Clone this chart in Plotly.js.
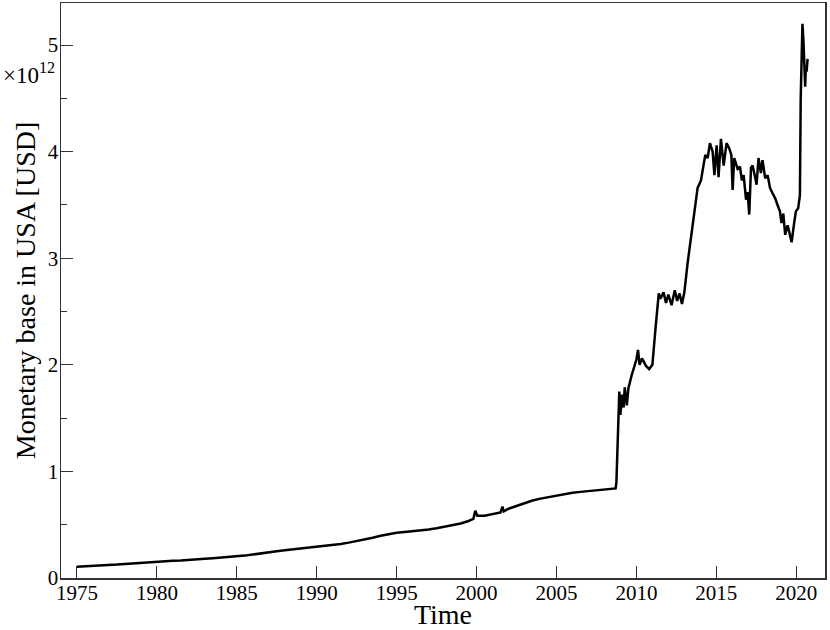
<!DOCTYPE html>
<html>
<head>
<meta charset="utf-8">
<script src="https://cdn.plot.ly/plotly-3.0.1.min.js"></script>
<style>
  html, body { margin: 0; padding: 0; background: #fff; }
  #chart { width: 830px; height: 630px; }
</style>
</head>
<body>
<div id="chart"></div>
<script>
// time in decimal years, monetary base in units of 10^12 USD
var years = [
  1975.0, 1975.5, 1976.0, 1976.5, 1977.0, 1977.5, 1978.0, 1978.5, 1979.0, 1979.5,
  1980.0, 1980.5, 1981.0, 1981.5, 1982.0, 1982.5, 1983.0, 1983.5, 1984.0, 1984.5,
  1985.0, 1985.5, 1986.0, 1986.5, 1987.0, 1987.5, 1988.0, 1988.5, 1989.0, 1989.5,
  1990.0, 1990.5, 1991.0, 1991.5, 1992.0, 1992.5, 1993.0, 1993.5, 1994.0, 1994.5,
  1995.0, 1995.5, 1996.0, 1996.5, 1997.0, 1997.5, 1998.0, 1998.5, 1999.0, 1999.5,
  1999.8, 1999.92, 2000.05, 2000.5, 2001.0, 2001.5, 2001.62, 2001.7, 2002.0, 2002.5,
  2003.0, 2003.5, 2004.0, 2004.5, 2005.0, 2005.5, 2006.0, 2006.5, 2007.0, 2007.5,
  2008.0, 2008.5, 2008.7, 2008.75, 2008.85, 2008.93, 2009.0, 2009.1, 2009.2, 2009.27,
  2009.4, 2009.5, 2009.7, 2010.0, 2010.1, 2010.2, 2010.35, 2010.6, 2010.8, 2011.0,
  2011.2, 2011.4, 2011.5, 2011.7, 2011.85, 2012.0, 2012.2, 2012.4, 2012.55, 2012.7,
  2012.85, 2013.0, 2013.2, 2013.35, 2013.52, 2013.83, 2014.04, 2014.19, 2014.31, 2014.46,
  2014.6, 2014.77, 2014.88, 2015.02, 2015.14, 2015.29, 2015.46, 2015.64, 2015.81, 2015.94,
  2016.02, 2016.12, 2016.33, 2016.48, 2016.6, 2016.71, 2016.86, 2016.96, 2017.06, 2017.17,
  2017.27, 2017.44, 2017.52, 2017.64, 2017.79, 2017.89, 2018.06, 2018.21, 2018.36, 2018.52,
  2018.69, 2018.83, 2018.98, 2019.08, 2019.19, 2019.31, 2019.46, 2019.56, 2019.71, 2019.88,
  2019.98, 2020.12, 2020.23, 2020.28, 2020.33, 2020.39, 2020.45, 2020.52, 2020.56, 2020.6,
  2020.65, 2020.71
];
var base = [
  0.105, 0.108, 0.112, 0.117, 0.121, 0.126, 0.132, 0.138, 0.143, 0.149,
  0.154, 0.158, 0.162, 0.165, 0.168, 0.173, 0.180, 0.185, 0.190, 0.196,
  0.202, 0.210, 0.220, 0.232, 0.244, 0.252, 0.260, 0.268, 0.275, 0.282,
  0.292, 0.300, 0.310, 0.320, 0.332, 0.346, 0.362, 0.378, 0.396, 0.412,
  0.425, 0.432, 0.438, 0.446, 0.455, 0.467, 0.480, 0.495, 0.512, 0.535,
  0.555, 0.630, 0.585, 0.585, 0.600, 0.615, 0.670, 0.625, 0.650, 0.678,
  0.705, 0.727, 0.745, 0.760, 0.775, 0.789, 0.800, 0.808, 0.815, 0.822,
  0.828, 0.835, 0.840, 0.900, 1.48, 1.75, 1.53, 1.72, 1.60, 1.79,
  1.62, 1.78, 1.90, 2.05, 2.14, 2.00, 2.06, 1.99, 1.96, 2.00,
  2.35, 2.67, 2.62, 2.68, 2.58, 2.66, 2.56, 2.70, 2.60, 2.67,
  2.57, 2.68, 2.95, 3.12, 3.34, 3.66, 3.73, 3.87, 3.97, 3.94,
  4.08, 4.00, 3.78, 4.06, 3.76, 4.12, 3.87, 4.08, 4.03, 3.97,
  3.64, 3.94, 3.84, 3.86, 3.73, 3.78, 3.55, 3.62, 3.41, 3.85,
  3.87, 3.75, 3.69, 3.94, 3.80, 3.92, 3.75, 3.78, 3.66, 3.61,
  3.56, 3.50, 3.44, 3.33, 3.42, 3.22, 3.31, 3.25, 3.15, 3.34,
  3.44, 3.47, 3.59, 4.50, 5.00, 5.20, 5.05, 4.85, 4.61, 4.80,
  4.75, 4.87
];
var xTicks = [1975, 1980, 1985, 1990, 1995, 2000, 2005, 2010, 2015, 2020];
var yTicks = [0, 1, 2, 3, 4, 5];

var serif = "Liberation Serif";

var trace = {
  x: years,
  y: base,
  type: "scatter",
  mode: "lines",
  line: { color: "#000", width: 2.5 },
  hoverinfo: "skip"
};

var layout = {
  width: 830,
  height: 630,
  margin: { l: 61, r: 5, t: 3, b: 52 },
  paper_bgcolor: "#fff",
  plot_bgcolor: "#fff",
  showlegend: false,
  font: { family: serif, color: "#000", size: 21 },
  xaxis: {
    range: [1974, 2021.8],
    tickvals: xTicks,
    ticktext: xTicks.map(String),
    ticks: "inside",
    ticklen: 12,
    tickcolor: "#333",
    ticklabelstandoff: -5,
    showline: true,
    linecolor: "#333",
    linewidth: 1.5,
    mirror: true,
    showgrid: false,
    zeroline: false,
    tickfont: { family: serif, size: 21 },
    title: { text: "Time", font: { family: serif, size: 28 }, standoff: 4 }
  },
  yaxis: {
    range: [0, 5.395],
    tickvals: yTicks,
    ticktext: yTicks.map(String),
    ticks: "inside",
    ticklen: 12,
    tickcolor: "#333",
    ticklabelstandoff: -3,
    minor: { dtick: 0.5, ticks: "inside", ticklen: 6, tickcolor: "#333" },
    showline: true,
    linecolor: "#333",
    linewidth: 1.5,
    mirror: true,
    showgrid: false,
    zeroline: false,
    tickfont: { family: serif, size: 21 },
    title: { text: "Monetary base in USA [USD]", font: { family: serif, size: 28 }, standoff: 4 }
  },
  annotations: [{
    xref: "paper", yref: "y",
    x: 0, y: 4.73,
    xanchor: "right", yanchor: "middle",
    xshift: -4,
    showarrow: false,
    text: "×10<sup>12</sup>",
    font: { family: serif, size: 23, color: "#000" }
  }]
};

Plotly.newPlot("chart", [trace], layout, { displayModeBar: false, staticPlot: true });
</script>
</body>
</html>
